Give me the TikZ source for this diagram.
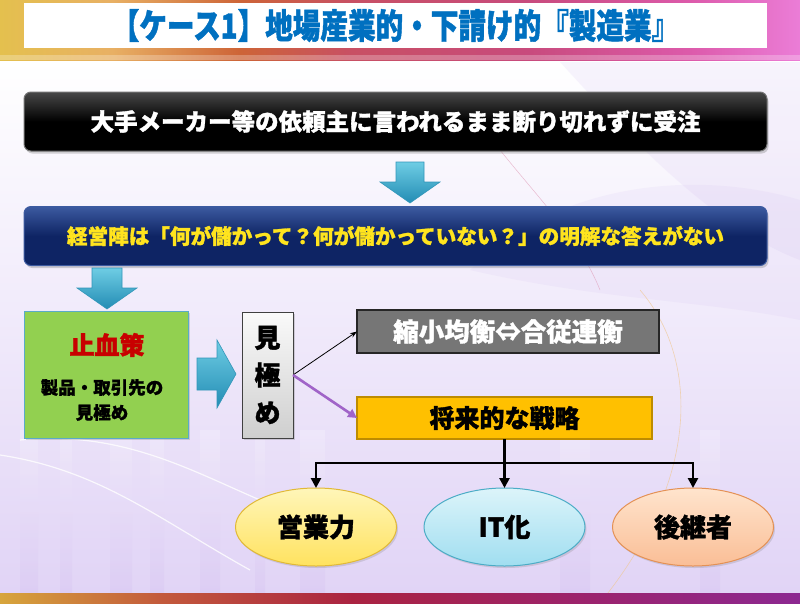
\documentclass[tikz,border=0pt]{standalone}
\usepackage{fontspec}
\setmainfont{Noto Sans CJK JP}
\newfontfamily\jp[BoldFeatures={FakeBold=1.3}]{Noto Sans CJK JP}
\newfontfamily\jpc[FakeStretch=0.8,BoldFeatures={FakeBold=1.3}]{Noto Sans CJK JP}
\usetikzlibrary{shapes.geometric,shadows,arrows.meta}
\definecolor{tb1}{RGB}{228,192,78}
\definecolor{tb2}{RGB}{232,176,100}
\definecolor{tb3}{RGB}{205,100,55}
\definecolor{tb4}{RGB}{200,80,100}
\definecolor{tb5}{RGB}{200,75,125}
\definecolor{tb6}{RGB}{220,90,170}
\definecolor{tb7}{RGB}{235,125,215}
\definecolor{bb1}{RGB}{215,165,60}
\definecolor{bb2}{RGB}{195,90,60}
\definecolor{bb3}{RGB}{170,35,65}
\definecolor{bb4}{RGB}{155,35,110}
\definecolor{bb5}{RGB}{140,40,145}
\definecolor{titleblue}{RGB}{0,112,192}
\definecolor{navy}{RGB}{14,36,100}
\definecolor{navyedge}{RGB}{60,90,160}
\definecolor{ytext}{RGB}{255,228,30}
\definecolor{lgreen}{RGB}{146,208,80}
\definecolor{gedge}{RGB}{90,170,200}
\definecolor{redtext}{RGB}{200,0,0}
\definecolor{boxgray}{RGB}{118,118,118}
\definecolor{amber}{RGB}{255,192,0}
\definecolor{amberedge}{RGB}{190,140,0}
\definecolor{parrow}{RGB}{160,100,200}
\definecolor{tealA}{RGB}{110,205,228}
\definecolor{tealB}{RGB}{35,140,180}
\definecolor{tealE}{RGB}{50,150,185}
\definecolor{lav}{RGB}{225,212,246}
\definecolor{lav2}{RGB}{205,182,238}
\definecolor{ylA}{RGB}{255,246,185}
\definecolor{ylB}{RGB}{255,226,95}
\definecolor{ylE}{RGB}{225,185,55}
\definecolor{blA}{RGB}{220,244,250}
\definecolor{blB}{RGB}{160,222,240}
\definecolor{blE}{RGB}{75,172,198}
\definecolor{pcA}{RGB}{255,228,205}
\definecolor{pcB}{RGB}{250,190,150}
\definecolor{pcE}{RGB}{228,145,85}
\pgfdeclarehorizontalshading{topband}{100bp}{color(0bp)=(tb1); color(25bp)=(tb1); color(32bp)=(tb2); color(40bp)=(tb3); color(47bp)=(tb4); color(58bp)=(tb5); color(68bp)=(tb6); color(75bp)=(tb7); color(100bp)=(tb7)}
\pgfdeclarehorizontalshading{botband}{100bp}{color(0bp)=(bb1); color(25bp)=(bb1); color(35bp)=(bb2); color(47bp)=(bb3); color(62bp)=(bb4); color(75bp)=(bb5); color(100bp)=(bb5)}
\tikzset{
  base/.style={inner sep=0pt, outer sep=0pt, font=\jp\bfseries},
  titlebox/.style={base, fill=white, minimum width=743pt, minimum height=45pt, text=titleblue,
    font=\jpc\bfseries\fontsize{34.5}{38}\selectfont},
  bandbox/.style={base, rounded corners=7pt, minimum width=743pt, minimum height=59pt,
    drop shadow={opacity=0.35, shadow xshift=1.5pt, shadow yshift=-2.5pt}},
  blackbox/.style={bandbox, top color=black!72, bottom color=black, middle color=black, draw=black!55, line width=1pt,
    text=white, font=\jp\bfseries\fontsize{23.5}{28}\selectfont},
  navybox/.style={bandbox, top color=navyedge, bottom color=navy, middle color=navy, draw=navyedge, line width=1pt,
    text=ytext, font=\jp\bfseries\fontsize{20.6}{25}\selectfont},
  greenbox/.style={base, fill=lgreen, draw=gedge, line width=0.8pt, minimum width=164pt, minimum height=127pt,
    drop shadow={opacity=0.3, shadow xshift=1.5pt, shadow yshift=-2pt}},
  mikibox/.style={base, top color=gray!4, bottom color=gray!38, draw=black!75, line width=0.9pt,
    minimum width=51pt, minimum height=126pt, align=center,
    font=\jp\bfseries\fontsize{26}{37.5}\selectfont,
    drop shadow={opacity=0.3, shadow xshift=1.5pt, shadow yshift=-2pt}},
  graybox/.style={base, fill=boxgray, draw=black!85, line width=1.6pt, minimum width=302pt, minimum height=43pt,
    text=white, font=\jp\bfseries\fontsize{25.5}{30}\selectfont},
  orangebox/.style={base, fill=amber, draw=amberedge, line width=1.2pt, minimum width=295pt, minimum height=42pt,
    font=\jp\bfseries\fontsize{25}{30}\selectfont},
  oval/.style={base, ellipse, minimum width=161pt, minimum height=78pt, line width=1pt,
    font=\jp\bfseries\fontsize{26}{30}\selectfont,
    drop shadow={opacity=0.25, shadow xshift=1.5pt, shadow yshift=-2pt}},
  blockarrow/.style={top color=tealA, bottom color=tealB, draw=tealE, line width=0.6pt, line join=miter},
  treeline/.style={line width=2.8pt, line join=miter},
  treearrow/.style={treeline, -{Triangle[width=10pt,length=10pt]}},
}
\begin{document}
\begin{tikzpicture}[x=1pt,y=-1pt]
\useasboundingbox (0,0) rectangle (800,603);
% ---------- background ----------
\shade[top color=white, bottom color=lav] (0,60) rectangle (800,593);
\fill[lav2, opacity=0.15] (560,62) .. controls (640,150) and (720,230) .. (800,260) -- (800,62) -- cycle;
\fill[lav2, opacity=0.12] (470,270) .. controls (560,180) and (700,170) .. (800,200) -- (800,320) .. controls (700,300) and (600,300) .. cycle;
\foreach \xa/\w in {20/18, 60/12, 110/22, 150/14, 200/20, 255/10, 300/25, 560/30, 700/20} {
  \shade[top color=white, bottom color=lav2, opacity=0.22] (\xa,430) rectangle ++(\w,163);
}
\draw[white, line width=1.2pt, opacity=0.8] (0,455) .. controls (100,470) and (160,520) .. (250,570);
\draw[white, line width=1.2pt, opacity=0.8] (20,440) .. controls (120,430) and (190,470) .. (260,500);
\draw[tb2!70, line width=0.6pt, opacity=0.7] (640,290) .. controls (700,360) and (700,480) .. (600,603);
\draw[tb5!60, line width=0.5pt, opacity=0.6] (500,150) .. controls (540,200) and (580,240) .. (600,290);
\shade[shading=topband] (0,0) rectangle (800,60);
\fill[white, opacity=0.25] (0,55) rectangle (800,60);
\shade[shading=botband] (0,593) rectangle (800,603);
% ---------- title ----------
\node[titlebox] (title) at (395.5,25.5) {【ケース1】地場産業的・下請け的『製造業』};
% ---------- top bands ----------
\node[blackbox] (order) at (395.5,121.5) {大手メーカー等の依頼主に言われるまま断り切れずに受注};
\node[navybox] (mgmt) at (395.5,236) {経営陣は「何が儲かって？何が儲かっていない？」の明解な答えがない};
% block arrows
\path[blockarrow] (396,162) -- (424,162) -- (424,182) -- (440,182) -- (410,203) -- (380,182) -- (396,182) -- cycle;
\path[blockarrow] (92,268) -- (122,268) -- (122,288) -- (137,288) -- (107,309) -- (77,288) -- (92,288) -- cycle;
% ---------- middle row ----------
\node[greenbox] (stop) at (106,374.5) {};
\node[base, text=redtext, font=\jp\bfseries\fontsize{25}{30}\selectfont] (stoptitle) at (107,345) {止血策};
\node[base, align=center, font=\jp\bfseries\fontsize{17.5}{25}\selectfont] (stoptext) at (102,400) {製品・取引先の\\見極め};
\path[blockarrow] (197,358) -- (217,358) -- (217,340) -- (236,374) -- (217,408) -- (217,390) -- (197,390) -- cycle;
\node[mikibox] (miki) at (267.5,375) {見\\極\\め};
\node[graybox] (shrink) at (508,331.5) {縮小均衡⇔合従連衡};
\node[orangebox] (future) at (504.5,418) {将来的な戦略};
\draw[line width=0.8pt, -{Stealth[length=7pt,width=5pt]}] (miki.east) -- (shrink.west);
\draw[parrow, line width=2.6pt, -{Triangle[length=9pt,width=9pt]}] (miki.east) -- (future.west);
% ---------- tree ----------
\node[oval, top color=ylA, bottom color=ylB, draw=ylE] (sales) at (316,527) {営業力};
\node[oval, top color=blA, bottom color=blB, draw=blE] (it) at (504.5,527) {IT化};
\node[oval, top color=pcA, bottom color=pcB, draw=pcE] (succ) at (693,527) {後継者};
\coordinate (j) at (504.5,463);
\draw[treeline] (future.south) -- (j);
\draw[treearrow] (j) -| (sales.north);
\draw[treearrow] (j) -- (it.north);
\draw[treearrow] (j) -| (succ.north);
\end{tikzpicture}
\end{document}
